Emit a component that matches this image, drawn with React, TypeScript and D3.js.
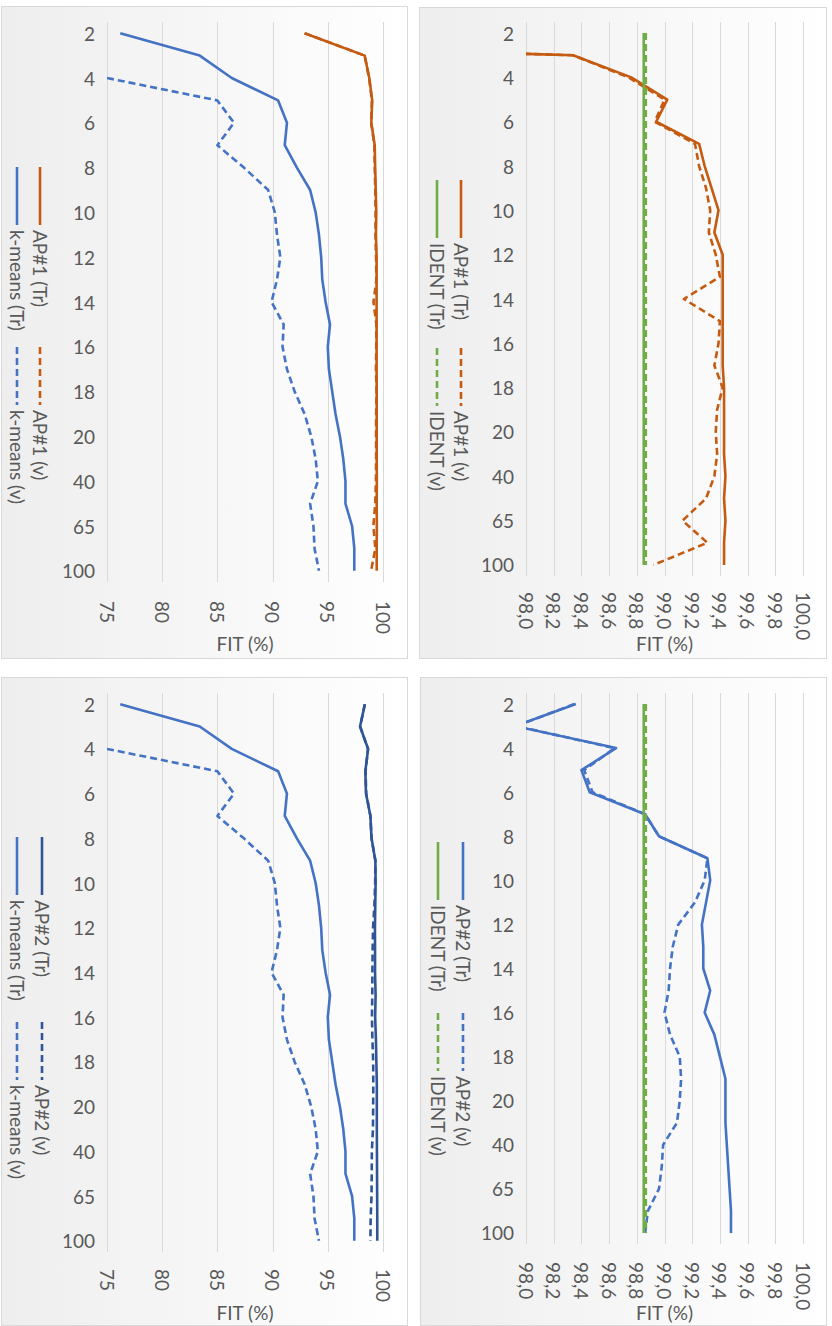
import React from 'react';
import * as d3 from 'd3';

// number of clusters (category axis)
const categories = ['2', '3', '4', '5', '6', '7', '8', '9', '10', '11', '12', '13', '14', '15', '16', '17', '18', '19', '20', '30', '40', '50', '65', '80', '100'];
const categoryTicks = ['2', '4', '6', '8', '10', '12', '14', '16', '18', '20', '40', '65', '100'];

const wideTicks = [75, 80, 85, 90, 95, 100];
const narrowTicks = [98.0, 98.2, 98.4, 98.6, 98.8, 99.0, 99.2, 99.4, 99.6, 99.8, 100.0];

// FIT (%) per series
const ap1Tr = [92.9, 98.34, 98.76, 99.02, 98.94, 99.25, 99.29, 99.34, 99.39, 99.36, 99.42, 99.42, 99.42, 99.42, 99.42, 99.42, 99.43, 99.43, 99.43, 99.43, 99.44, 99.43, 99.44, 99.43, 99.43];
const ap1V = [92.9, 98.34, 98.74, 99.0, 98.93, 99.22, 99.25, 99.3, 99.33, 99.32, 99.37, 99.4, 99.14, 99.4, 99.39, 99.36, 99.42, 99.38, 99.37, 99.38, 99.36, 99.3, 99.13, 99.31, 98.92];
const ap2Tr = [98.36, 97.92, 98.65, 98.4, 98.46, 98.86, 98.96, 99.31, 99.33, 99.3, 99.27, 99.28, 99.28, 99.33, 99.29, 99.36, 99.4, 99.44, 99.44, 99.44, 99.45, 99.46, 99.47, 99.48, 99.48];
const ap2V = [98.35, 97.93, 98.64, 98.42, 98.48, 98.86, 98.96, 99.31, 99.29, 99.22, 99.1, 99.06, 99.04, 99.03, 99.0, 99.04, 99.11, 99.12, 99.11, 99.09, 98.99, 98.98, 98.96, 98.88, 98.86];
const kmeansTr = [76.2, 83.4, 86.3, 90.5, 91.3, 91.1, 92.2, 93.4, 93.9, 94.2, 94.4, 94.5, 94.8, 95.2, 95.0, 95.1, 95.4, 95.7, 96.1, 96.4, 96.6, 96.6, 97.2, 97.4, 97.4];
const kmeansV = [null, null, 75.0, 85.0, 86.5, 85.0, 87.4, 89.6, 90.2, 90.4, 90.7, 90.4, 89.9, 91.0, 90.9, 91.3, 92.0, 92.9, 93.5, 93.9, 94.1, 93.4, 93.7, 93.8, 94.2];
const identTr = [98.85, 98.85, 98.85, 98.85, 98.85, 98.85, 98.85, 98.85, 98.85, 98.85, 98.85, 98.85, 98.85, 98.85, 98.85, 98.85, 98.85, 98.85, 98.85, 98.85, 98.85, 98.85, 98.85, 98.85, 98.85];
const identV = [98.865, 98.865, 98.865, 98.865, 98.865, 98.865, 98.865, 98.865, 98.865, 98.865, 98.865, 98.865, 98.865, 98.865, 98.865, 98.865, 98.865, 98.865, 98.865, 98.865, 98.865, 98.865, 98.865, 98.865, 98.865];

const ORANGE = '#c55a11';
const BLUE = '#4472c4';
const NAVY = '#2f5597';
const GREEN = '#70ad47';
const TEXT = '#595959';
const GRID = '#d9d9d9';
const FONT = 'Lato, "Open Sans", sans-serif';
const FS = 19;
const SW = 2.6;
const DASH = '7,4';

const commaFmt = d3.formatLocale({ decimal: ',', thousands: '.', grouping: [3], currency: ['', ''] }).format('.1f');
const intFmt = d3.format('d');

type Series = { name: string; values: (number | null)[]; color: string; dashed: boolean };

type PanelSpec = {
  id: string;
  box: [number, number, number, number];
  xRange: [number, number];
  domain: [number, number];
  ticks: number[];
  fmt: (v: number) => string;
  band: [number, number];
  catX: number;
  valY: number;
  fitY: number;
  legendX: [number, number];
  legendY: [number, number];
  series: Series[];
};

const panels: PanelSpec[] = [
  {
    id: 'tl', box: [1, 6, 407, 658], xRange: [107, 383], domain: [75, 100], ticks: wideTicks, fmt: intFmt,
    band: [22, 582], catX: 95, valY: 601, fitY: 643, legendX: [40, 17], legendY: [167, 347],
    series: [
      { name: 'AP#1 (Tr)', values: ap1Tr, color: ORANGE, dashed: false },
      { name: 'AP#1 (v)', values: ap1V, color: ORANGE, dashed: true },
      { name: 'k-means (Tr)', values: kmeansTr, color: BLUE, dashed: false },
      { name: 'k-means (v)', values: kmeansV, color: BLUE, dashed: true },
    ],
  },
  {
    id: 'tr', box: [419, 7, 826, 658], xRange: [526, 803], domain: [98, 100], ticks: narrowTicks, fmt: commaFmt,
    band: [22, 576], catX: 514, valY: 592, fitY: 643, legendX: [461, 437], legendY: [180, 348],
    series: [
      { name: 'AP#1 (Tr)', values: ap1Tr, color: ORANGE, dashed: false },
      { name: 'AP#1 (v)', values: ap1V, color: ORANGE, dashed: true },
      { name: 'IDENT (Tr)', values: identTr, color: GREEN, dashed: false },
      { name: 'IDENT (v)', values: identV, color: GREEN, dashed: true },
    ],
  },
  {
    id: 'bl', box: [1, 677, 407, 1325], xRange: [107, 383], domain: [75, 100], ticks: wideTicks, fmt: intFmt,
    band: [693, 1252], catX: 95, valY: 1269, fitY: 1312, legendX: [42, 17], legendY: [837, 1022],
    series: [
      { name: 'AP#2 (Tr)', values: ap2Tr, color: NAVY, dashed: false },
      { name: 'AP#2 (v)', values: ap2V, color: NAVY, dashed: true },
      { name: 'k-means (Tr)', values: kmeansTr, color: BLUE, dashed: false },
      { name: 'k-means (v)', values: kmeansV, color: BLUE, dashed: true },
    ],
  },
  {
    id: 'br', box: [420, 677, 826, 1325], xRange: [526, 803], domain: [98, 100], ticks: narrowTicks, fmt: commaFmt,
    band: [693, 1244], catX: 514, valY: 1262, fitY: 1312, legendX: [463, 438], legendY: [842, 1013],
    series: [
      { name: 'AP#2 (Tr)', values: ap2Tr, color: BLUE, dashed: false },
      { name: 'AP#2 (v)', values: ap2V, color: BLUE, dashed: true },
      { name: 'IDENT (Tr)', values: identTr, color: GREEN, dashed: false },
      { name: 'IDENT (v)', values: identV, color: GREEN, dashed: true },
    ],
  },
];

const Panel = ({ spec }: { spec: PanelSpec }) => {
  const x = d3.scaleLinear().domain(spec.domain).range(spec.xRange);
  const yb = d3.scaleBand().domain(categories).range(spec.band);
  const yc = (c: string) => (yb(c) as number) + yb.bandwidth() / 2;

  const line = d3.line<[string, number | null]>()
    .defined(d => d[1] != null)
    .x(d => x(d[1] as number))
    .y(d => yc(d[0]));

  const [x0, y0, x1, y1] = spec.box;
  const clipId = `clip-${spec.id}`;

  return (
    <g>
      <rect x={x0 + 0.5} y={y0 + 0.5} width={x1 - x0} height={y1 - y0} fill="url(#bg)" stroke={GRID} />
      <clipPath id={clipId}>
        <rect x={spec.xRange[0]} y={spec.band[0]} width={spec.xRange[1] - spec.xRange[0]} height={spec.band[1] - spec.band[0]} />
      </clipPath>

      {/* gridlines */}
      {spec.ticks.map(t => (
        <line key={t} x1={Math.round(x(t)) + 0.5} x2={Math.round(x(t)) + 0.5} y1={spec.band[0]} y2={spec.band[1]} stroke={GRID} />
      ))}

      {/* value labels, rotated */}
      {spec.ticks.map(t => (
        <text key={t} transform={`translate(${x(t)},${spec.valY}) rotate(90)`} dominantBaseline="central"
          fontSize={FS} fill={TEXT}>{spec.fmt(t)}</text>
      ))}

      {/* category labels */}
      {categoryTicks.map(c => (
        <text key={c} x={spec.catX} y={yc(c)} textAnchor="end" dominantBaseline="central" fontSize={FS} fill={TEXT}>{c}</text>
      ))}

      <text x={(spec.xRange[0] + spec.xRange[1]) / 2} y={spec.fitY} textAnchor="middle" dominantBaseline="central"
        fontSize={FS} fill={TEXT}>FIT (%)</text>

      <g clipPath={`url(#${clipId})`}>
        {spec.series.map(s => (
          <path key={s.name} d={line(categories.map((c, i) => [c, s.values[i]]) as [string, number | null][]) || ''}
            fill="none" stroke={s.color} strokeWidth={SW} strokeDasharray={s.dashed ? DASH : undefined}
            strokeLinejoin="round" />
        ))}
      </g>

      {/* legend */}
      {spec.series.map((s, i) => {
        const lx = spec.legendX[Math.floor(i / 2)];
        const ly = spec.legendY[i % 2];
        return (
          <g key={s.name}>
            <line x1={lx} x2={lx} y1={ly} y2={ly + 58} stroke={s.color} strokeWidth={SW}
              strokeDasharray={s.dashed ? DASH : undefined} />
            <text transform={`translate(${lx},${ly + 63}) rotate(90)`} dominantBaseline="central"
              fontSize={FS} fill={TEXT}>{s.name}</text>
          </g>
        );
      })}
    </g>
  );
};

export default function App() {
  return (
    <svg width={832} height={1326} style={{ position: 'absolute', left: 0, top: 0, background: '#fff' }}
      fontFamily={FONT}>
      <defs>
        <linearGradient id="bg" x1="0" x2="1" y1="0" y2="0">
          <stop offset="0%" stopColor="#eeeeee" />
          <stop offset="100%" stopColor="#ffffff" />
        </linearGradient>
      </defs>
      {panels.map(p => <Panel key={p.id} spec={p} />)}
    </svg>
  );
}
